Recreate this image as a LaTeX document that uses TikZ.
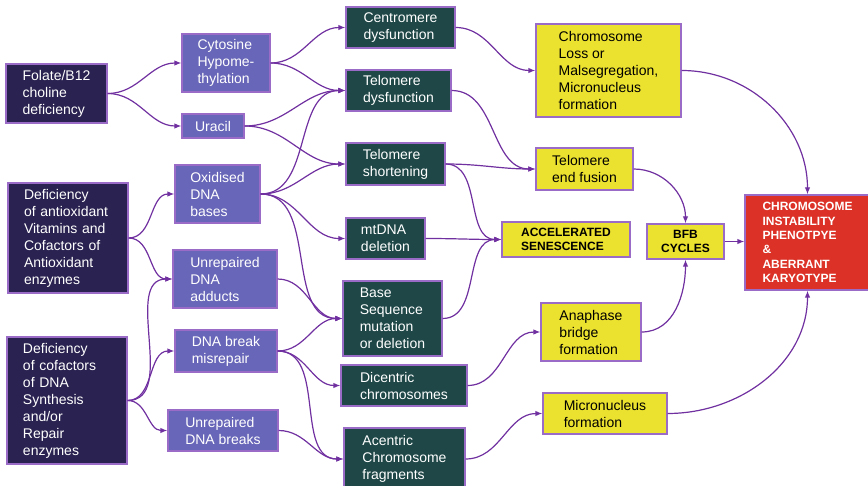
\documentclass[tikz,border=0pt]{standalone}
\usepackage{fontspec}
\setmainfont{Liberation Sans}
\usetikzlibrary{arrows.meta,positioning}
\definecolor{navyfill}{HTML}{2A2250}
\definecolor{violetfill}{HTML}{6866B8}
\definecolor{tealfill}{HTML}{1F4747}
\definecolor{yellowfill}{HTML}{EBE12F}
\definecolor{redfill}{HTML}{DC3126}
\definecolor{edgecol}{HTML}{9B6BC8}
\definecolor{linkcol}{HTML}{7030A0}
\begin{document}
\begin{tikzpicture}[x=1pt, y=-1pt,
  box/.style={draw=edgecol, line width=1.2pt, inner xsep=4pt, inner ysep=2pt, align=left, font=\fontsize{14}{17}\selectfont},
  boxsize/.style 2 args={minimum width=#1pt, minimum height=#2pt},
  navybox/.style={box, fill=navyfill, text=white},
  violetbox/.style={box, fill=violetfill, text=white},
  tealbox/.style={box, fill=tealfill, text=white},
  yellowbox/.style={box, fill=yellowfill, text=black},
  boldbox/.style={box, fill=yellowfill, text=black, font=\bfseries\fontsize{12}{13.5}\selectfont},
  redbox/.style={box, fill=redfill, text=white, font=\bfseries\fontsize{12}{14.4}\selectfont},
  link/.style={draw=linkcol, line width=1.2pt, -{Latex[length=7pt,width=5.5pt]}}]
\useasboundingbox (0,0) rectangle (868,486);
\node[navybox, boxsize={101}{59}] (folate) at (56.5,93.5) {Folate/B12\\choline\\deficiency};
\node[navybox, boxsize={120}{110}, text width=88pt] (antiox) at (68,238) {Deficiency\\of antioxidant\\Vitamins and\\Cofactors of\\Antioxidant\\enzymes};
\node[navybox, boxsize={120}{127}, text width=88pt] (cofact) at (67,400.5) {Deficiency\\of cofactors\\of DNA\\Synthesis\\and/or\\Repair\\enzymes};
\node[violetbox, boxsize={88}{58}] (cyto) at (226,63) {Cytosine\\Hypome-\\thylation};
\node[violetbox, boxsize={62}{24}] (uracil) at (213,126) {Uracil};
\node[violetbox, boxsize={85}{58}] (oxid) at (217.5,194) {Oxidised\\DNA\\bases};
\node[violetbox, boxsize={104}{58}] (adduct) at (225,279) {Unrepaired\\DNA\\adducts};
\node[violetbox, boxsize={102}{42}] (misrep) at (226,351) {DNA break\\misrepair};
\node[violetbox, boxsize={110}{41}] (breaks) at (223,430.5) {Unrepaired\\DNA breaks};
\node[tealbox, boxsize={109}{41}] (centro) at (400.5,27.5) {Centromere\\dysfunction};
\node[tealbox, boxsize={105}{41}] (teldys) at (398.5,90.5) {Telomere\\dysfunction};
\node[tealbox, boxsize={99}{42}] (telsho) at (395.5,164) {Telomere\\shortening};
\node[tealbox, boxsize={79}{41}] (mtdna) at (385.5,238.5) {mtDNA\\deletion};
\node[tealbox, boxsize={99}{75}] (baseseq) at (392.5,318.5) {Base\\Sequence\\mutation\\or deletion};
\node[tealbox, boxsize={126}{41}] (dicen) at (404,385.5) {Dicentric\\chromosomes};
\node[tealbox, boxsize={121}{62}] (acen) at (404.5,459) {Acentric\\Chromosome\\fragments};
\node[yellowbox, boxsize={145}{93}] (chrloss) at (608.5,70.5) {Chromosome\\Loss or\\Malsegregation,\\Micronucleus\\formation};
\node[yellowbox, boxsize={97}{42}] (endfus) at (584.5,169) {Telomere\\end fusion};
\node[boldbox, boxsize={128}{35}] (accel) at (566,239.5) {ACCELERATED\\SENESCENCE};
\node[boldbox, boxsize={77}{35}, align=center] (bfb) at (685.5,241.5) {BFB\\CYCLES};
\node[yellowbox, boxsize={100}{58}] (anaph) at (591,332) {Anaphase\\bridge\\formation};
\node[yellowbox, boxsize={124}{41}] (micro) at (605,413.5) {Micronucleus\\formation};
\node[redbox, boxsize={125}{95}] (cin) at (807.5,242.5) {CHROMOSOME\\INSTABILITY\\PHENOTPYE\\\&\\ABERRANT\\KARYOTYPE};
\draw[link] (folate.east) to[out=0,in=180] (cyto.west);
\draw[link] (folate.east) to[out=0,in=180] (uracil.west);
\draw[link] (antiox.east) to[out=0,in=180] (oxid.west);
\draw[link] (antiox.east) to[out=0,in=180] (adduct.west);
\draw[link] (cofact.east) to[out=0,in=180] (adduct.west);
\draw[link] (cofact.east) to[out=0,in=180] (misrep.west);
\draw[link] (cofact.east) to[out=0,in=180] (breaks.west);
\draw[link] (cyto.east) to[out=0,in=180] (centro.west);
\draw[link] (cyto.east) to[out=0,in=180] (teldys.west);
\draw[link] (uracil.east) to[out=0,in=180] (teldys.west);
\draw[link] (uracil.east) to[out=0,in=180] (telsho.west);
\draw[link] (oxid.east) to[out=0,in=180] (teldys.west);
\draw[link] (oxid.east) to[out=0,in=180] (telsho.west);
\draw[link] (oxid.east) to[out=0,in=180] (mtdna.west);
\draw[link] (oxid.east) to[out=0,in=180] (baseseq.west);
\draw[link] (adduct.east) to[out=0,in=180] (baseseq.west);
\draw[link] (misrep.east) to[out=0,in=180] (baseseq.west);
\draw[link] (misrep.east) to[out=0,in=180] (dicen.west);
\draw[link] (misrep.east) to[out=0,in=180] (acen.west);
\draw[link] (breaks.east) to[out=0,in=180] (acen.west);
\draw[link] (centro.east) to[out=0,in=180] (chrloss.west);
\draw[link] (teldys.east) to[out=0,in=180] (endfus.west);
\draw[link] (telsho.east) to[out=0,in=180] (endfus.west);
\draw[link] (telsho.east) to[out=0,in=180] (accel.west);
\draw[link] (mtdna.east) to[out=0,in=180] (accel.west);
\draw[link] (baseseq.east) to[out=0,in=180] (accel.west);
\draw[link] (dicen.east) to[out=0,in=180] (anaph.west);
\draw[link] (acen.east) to[out=0,in=180] (micro.west);
\draw[link] (endfus.east) to[out=0,in=90] (bfb.north);
\draw[link] (anaph.east) to[out=0,in=-90] (bfb.south);
\draw[link] (bfb.east) -- (cin.west |- bfb.east);
\draw[link] (chrloss.east) to[out=0,in=90] (cin.north);
\draw[link] (micro.east) to[out=0,in=-90] (cin.south);
\end{tikzpicture}
\end{document}
